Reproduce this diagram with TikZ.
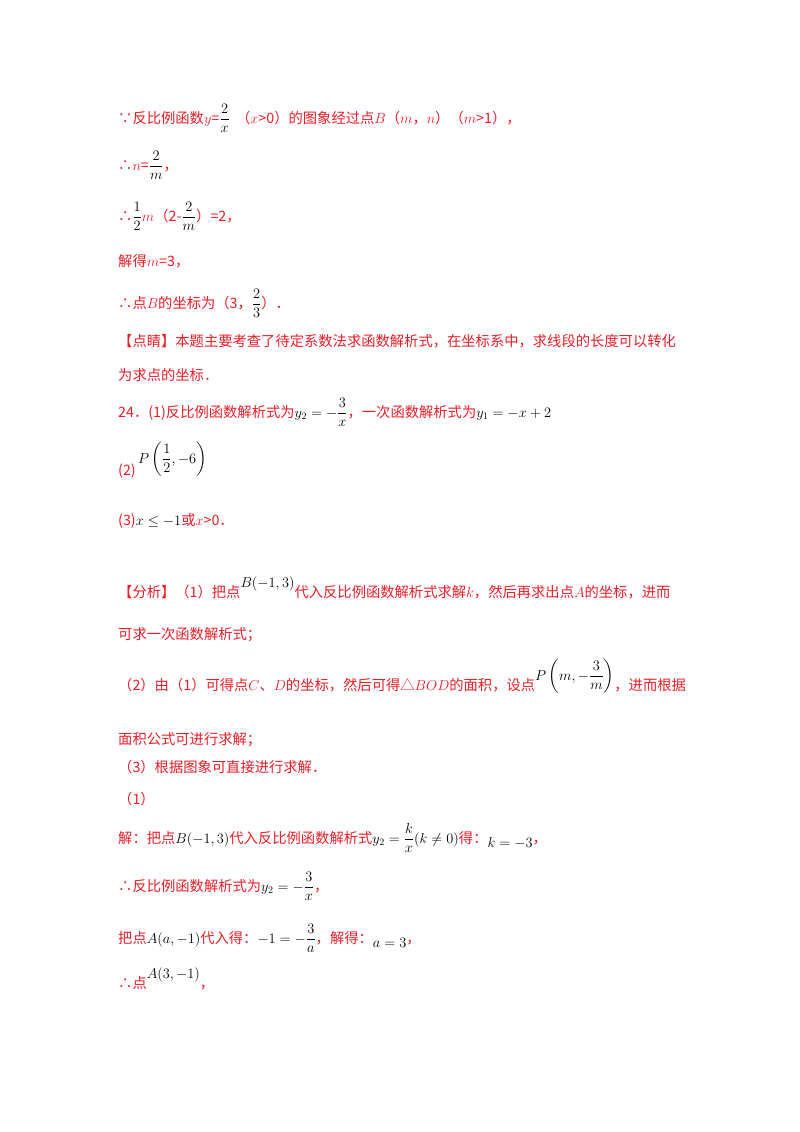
\documentclass[tikz,border=0pt]{standalone}
\usepackage{fontspec}
\usepackage{amsmath}
\newfontfamily\cjk{Noto Sans CJK SC}
\definecolor{rd}{RGB}{235,30,40}
\newcommand{\mk}[1]{{\color{black}$#1$}}
\newcommand{\mr}[1]{$#1$}
\tikzset{ln/.style={anchor=base west,inner sep=0pt,font=\cjk\fontsize{14.3}{17}\selectfont,text=rd}}
\begin{document}
\begin{tikzpicture}[x=1pt,y=-1pt]
\useasboundingbox[fill=white] (0,0) rectangle (800,1132);
\node[ln] (l1) at (118,123) {∵反比例函数\mr{y}=\mk{\dfrac{2}{x}}\ \ （\mr{x}>0）的图象经过点\mr{B}（\mr{m}，\mr{n}）（\mr{m}>1），};
\node[ln] (l2) at (118,170) {∴\mr{n}=\mk{\dfrac{2}{m}}，};
\node[ln] (l3) at (118,221) {∴\mk{\dfrac{1}{2}}\mr{m}（2-\mk{\dfrac{2}{m}}）=2，};
\node[ln] (l4) at (118,266) {解得\mr{m}=3，};
\node[ln] (l5) at (118,308) {∴点\mr{B}的坐标为（3，\mk{\dfrac{2}{3}}）．};
\node[ln] (l6) at (118,346) {【点睛】本题主要考查了待定系数法求函数解析式，在坐标系中，求线段的长度可以转化};
\node[ln] (l7) at (118,380) {为求点的坐标．};
\node[ln] (l8) at (118,417) {24．(1)反比例函数解析式为\mk{y_2=-\dfrac{3}{x}}，一次函数解析式为\mk{y_1=-x+2}};
\node[ln] (l9) at (118,475) {(2)};
\node[ln] (l9p) at (138,463) {\mk{P\left(\dfrac{1}{2},-6\right)}};
\node[ln] (l10) at (118,525) {(3)\mk{x\le -1}或\mr{x}>0．};
\node[ln] (l11) at (118,597) {【分析】（1）把点\raisebox{10pt}{\mk{B(-1,3)}}代入反比例函数解析式求解\mr{k}，然后再求出点\mr{A}的坐标，进而};
\node[ln] (l12) at (118,639) {可求一次函数解析式；};
\node[ln] (l13) at (118,690) {（2）由（1）可得点\mr{C}、\mr{D}的坐标，然后可得△\mr{BOD}的面积，设点\raisebox{10pt}{\mk{P\left(m,-\dfrac{3}{m}\right)}}，进而根据};
\node[ln] (l14) at (118,744) {面积公式可进行求解；};
\node[ln] (l15) at (118,772) {（3）根据图象可直接进行求解．};
\node[ln] (l16) at (118,804) {（1）};
\node[ln] (l17) at (118,843) {解：把点\mk{B(-1,3)}代入反比例函数解析式\mk{y_2=\dfrac{k}{x}(k\ne0)}得：\raisebox{-4pt}{\mk{k=-3}}，};
\node[ln] (l18) at (118,891) {∴反比例函数解析式为\mk{y_2=-\dfrac{3}{x}}，};
\node[ln] (l19) at (118,943) {把点\mk{A(a,-1)}代入得：\mk{-1=-\dfrac{3}{a}}，解得：\raisebox{-4pt}{\mk{a=3}}，};
\node[ln] (l20) at (118,988) {∴点\raisebox{10pt}{\mk{A(3,-1)}}，};
\end{tikzpicture}
\end{document}
